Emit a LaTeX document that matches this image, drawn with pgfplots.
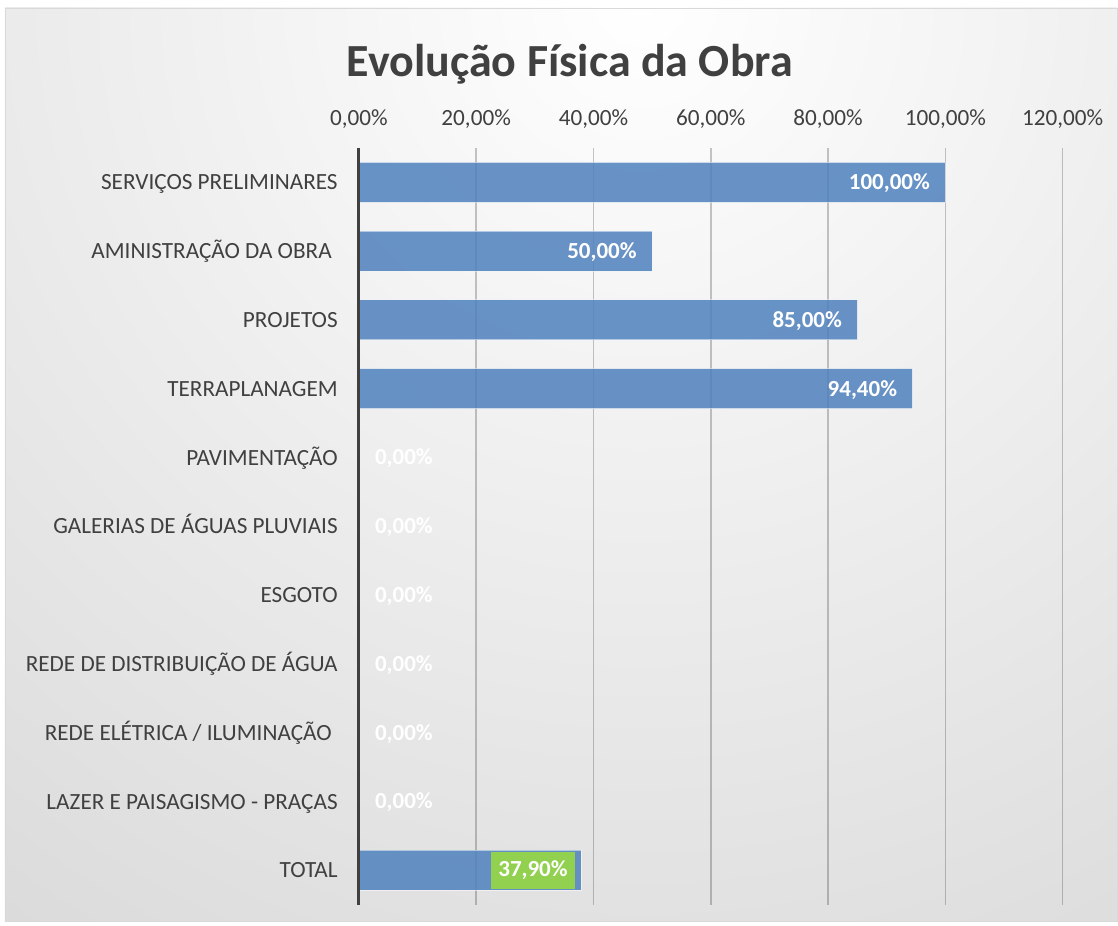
\documentclass[border=0pt]{standalone}
\usepackage{fontspec}
\setmainfont{Carlito}
\usepackage{pgfplots}
\pgfplotsset{compat=1.18}
\definecolor{txt}{HTML}{404040}
\definecolor{barblue}{HTML}{4F81BD}
\definecolor{lbgreen}{HTML}{92D050}
\definecolor{bgout}{HTML}{B8B8B8}
\begin{document}
\begin{tikzpicture}
% background
\fill[white] (0pt,0pt) rectangle (1118pt,-926pt);
\begin{scope}
\clip (5pt,-8pt) rectangle (1118pt,-922pt);
\shade[inner color=white, outer color=bgout] (640pt,0pt) circle (2200pt);
\end{scope}
\draw[black!15, line width=0.8pt] (5pt,-8pt) rectangle (1118pt,-922pt);
% title
\node[anchor=base, text=txt, font=\fontsize{46}{54}\selectfont\bfseries, inner sep=0pt] at (570pt,-77pt) {Evolução Física da Obra};
\begin{axis}[
  at={(359pt,-905pt)}, anchor=south west,
  scale only axis, width=704pt, height=757pt,
  xbar, bar shift=0pt, bar width=40pt,
  xmin=0, xmax=120, ymin=-0.5, ymax=10.5, y dir=reverse,
  ytick={0,...,10},
  yticklabels={SERVIÇOS PRELIMINARES, AMINISTRAÇÃO DA OBRA\kern6pt, PROJETOS, TERRAPLANAGEM, PAVIMENTAÇÃO, GALERIAS DE ÁGUAS PLUVIAIS, ESGOTO, REDE DE DISTRIBUIÇÃO DE ÁGUA, REDE ELÉTRICA / ILUMINAÇÃO\kern6pt, LAZER E PAISAGISMO - PRAÇAS, TOTAL},
  xtick={0,20,40,60,80,100,120},
  xticklabels={{0,00\%},{20,00\%},{40,00\%},{60,00\%},{80,00\%},{100,00\%},{120,00\%}},
  xticklabel pos=top,
  major tick length=0pt,
  axis line style={draw=none},
  xmajorgrids,
  grid style={draw=black, opacity=0.22, line width=1.5pt},
  tick label style={text=txt, font=\fontsize{23.2}{27}\selectfont, inner sep=0pt},
  xticklabel style={anchor=base, yshift=22.5pt},
  yticklabel style={anchor=base east, xshift=-21pt, yshift=-7.5pt},
  point meta=x,
  /pgf/number format/assume math mode=true,
  nodes near coords={\pgfmathprintnumber[fixed,fixed zerofill,precision=2,use comma,assume math mode=true]{\pgfplotspointmeta}\%},
  every node near coord/.append style={text=white, text opacity=1, font=\fontsize{23}{27}\selectfont\bfseries, inner sep=0pt},
  clip=false,
]
\addplot[fill=barblue, fill opacity=0.85, draw=white, draw opacity=0.5, line width=1pt,
  every node near coord/.append style={anchor=base east, xshift=-15pt, yshift=-7.4pt}]
  coordinates {(100,0) (50,1) (85,2) (94.4,3)};
\addplot[draw=none, fill=none,
  every node near coord/.append style={anchor=base west, xshift=16pt, yshift=-7.4pt}]
  coordinates {(0,4) (0,5) (0,6) (0,7) (0,8) (0,9)};
\addplot[fill=barblue, fill opacity=0.85, draw=white, draw opacity=0.5, line width=1pt,
  every node near coord/.append style={anchor=east, xshift=-6pt, fill=lbgreen, fill opacity=1, inner xsep=7pt, inner ysep=0pt, minimum height=37pt}]
  coordinates {(37.9,10)};
\draw[txt, line width=3pt] (axis cs:0,-0.5) -- (axis cs:0,10.5);
\end{axis}
\end{tikzpicture}
\end{document}
